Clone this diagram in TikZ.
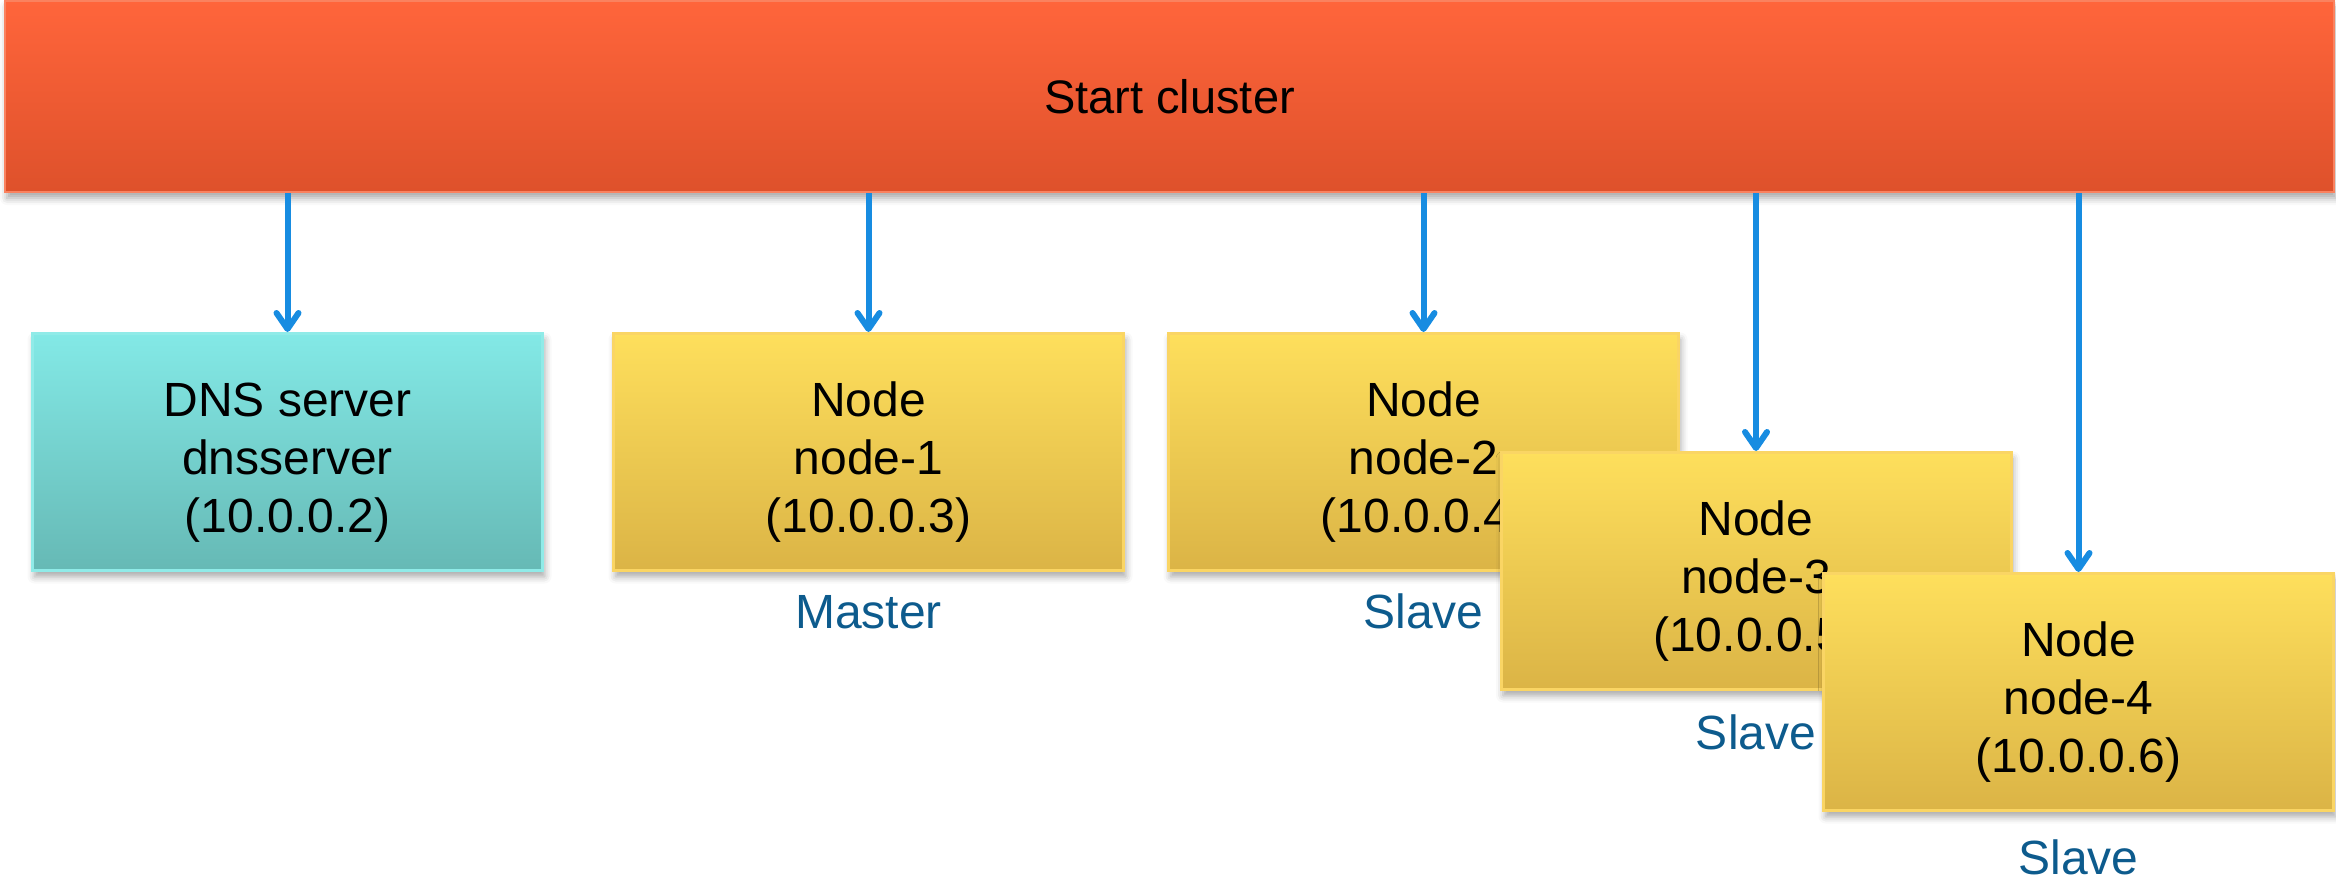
\documentclass[tikz,border=0pt]{standalone}
\usepackage{fontspec}
\setmainfont{Liberation Sans}
\usetikzlibrary{arrows.meta,shadows.blur,calc}

\definecolor{barTop}{HTML}{FF653B}
\definecolor{barBot}{HTML}{DE512B}
\definecolor{barEdge}{HTML}{FA825F}
\definecolor{ylTop}{HTML}{FEDF5C}
\definecolor{ylBot}{HTML}{DBB446}
\definecolor{ylEdge}{HTML}{FAD564}
\definecolor{cyTop}{HTML}{83E9E6}
\definecolor{cyBot}{HTML}{66B9B5}
\definecolor{cyEdge}{HTML}{90EBE8}
\definecolor{link}{HTML}{178CE1}
\definecolor{role}{HTML}{0D5B8D}

\begin{document}
\begin{tikzpicture}[x=1pt,y=-1pt,
  every node/.style={font=\fontsize{48}{58}\selectfont},
  softshadow/.style={blur shadow={shadow xshift=2pt, shadow yshift=-6pt,
      shadow blur radius=7pt, shadow opacity=35}},
  panel/.style={rectangle, line width=3pt, minimum width=510pt,
      minimum height=237pt, inner sep=0pt, align=center, softshadow},
  hostbox/.style={panel, draw=ylEdge, top color=ylTop, bottom color=ylBot},
  dnsbox/.style={panel, draw=cyEdge, top color=cyTop, bottom color=cyBot},
  startbar/.style={rectangle, line width=2pt, draw=barEdge,
      top color=barTop, bottom color=barBot, minimum width=2329pt,
      minimum height=191pt, inner sep=0pt, softshadow,
      font=\fontsize{47}{56}\selectfont},
  rolelabel/.style={anchor=base, text=role},
  flow/.style={draw=link, line width=6pt,
      -{Straight Barb[length=16pt,width=22pt,round]}},
]
\useasboundingbox (0,0) rectangle (2336,883);

% cluster start bar
\node[startbar] (start) at (1169.5,96.5) {Start cluster};

% DNS server and the four cluster nodes
\node[dnsbox]  (dns) at (287.5,452)  {\rule{0pt}{54pt}DNS server\\dnsserver\\(10.0.0.2)};
\node[hostbox] (n1)  at (868.5,452)  {\rule{0pt}{54pt}Node\\node-1\\(10.0.0.3)};
\node[hostbox] (n2)  at (1423.5,452) {\rule{0pt}{54pt}Node\\node-2\\(10.0.0.4)};
\node[rolelabel] (r2) at ($(n2.south)+(0,56)$) {Slave};
\node[hostbox] (n3)  at (1756,571)   {\rule{0pt}{54pt}Node\\node-3\\(10.0.0.5)};
\node[rolelabel] (r3) at ($(n3.south)+(0,58)$) {Slave};
\node[hostbox] (n4)  at (2078.5,692) {\rule{0pt}{54pt}Node\\node-4\\(10.0.0.6)};

% role labels
\node[rolelabel] (r1) at ($(n1.south)+(0,56)$) {Master};
\node[rolelabel] (r4) at ($(n4.south)+(0,62)$) {Slave};

% start signals
\foreach \t in {dns,n1,n2,n3,n4}
  \draw[flow] (start.south -| \t.north) -- (\t.north);
\end{tikzpicture}
\end{document}
